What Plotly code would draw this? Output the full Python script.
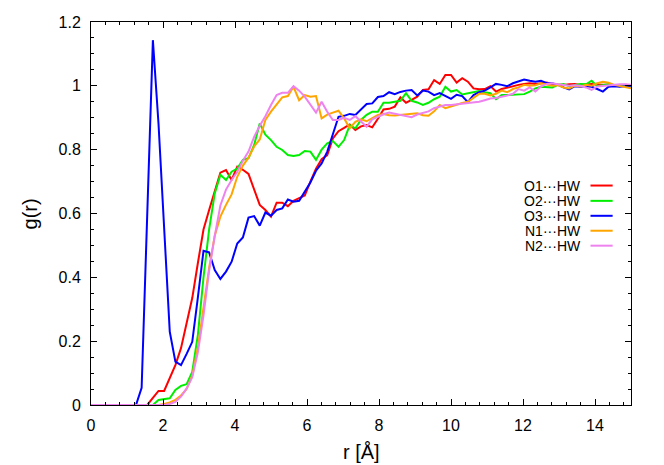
import plotly.graph_objects as go

# r grid (Å), bin spacing 15/96
r = [round(i * 0.15625, 5) for i in range(97)]

series_names = ["O1···HW", "O2···HW", "O3···HW", "N1···HW", "N2···HW"]
series_colors = ["#ff0000", "#00ee00", "#0000ff", "#ffa500", "#ee82ee"]

g_O1 = [0]*11 + [
    0.022, 0.044, 0.044, 0.084, 0.125, 0.178, 0.256, 0.335, 0.445,          # 12-20
    0.550, 0.611, 0.668, 0.728, 0.736, 0.705, 0.747, 0.737, 0.724, 0.674,   # 21-30
    0.627, 0.611, 0.590, 0.634, 0.634, 0.623, 0.640, 0.648, 0.656, 0.700,   # 31-40
    0.740, 0.770, 0.783, 0.835, 0.858, 0.868, 0.879, 0.862, 0.873, 0.877,   # 41-50
    0.870, 0.897, 0.926, 0.928, 0.935, 0.964, 0.947, 0.956, 0.966, 0.987,   # 51-60
    0.989, 1.018, 1.006, 1.034, 1.034, 1.010, 1.024, 1.013, 0.992, 0.989,   # 61-70
    0.990, 0.999, 0.982, 0.990, 0.995, 0.998, 1.003, 1.006, 1.008, 1.006,   # 71-80
    1.008, 1.010, 1.005, 1.004, 1.003, 1.005, 1.006, 1.003, 1.004, 1.006,   # 81-90
    1.004, 1.003, 1.002, 1.000, 1.000, 1.000]                               # 91-96

g_O2 = [0]*12 + [
    0.016, 0.018, 0.021, 0.047, 0.060, 0.065, 0.104, 0.220, 0.400,          # 12-20
    0.550, 0.663, 0.721, 0.705, 0.731, 0.741, 0.768, 0.773, 0.815, 0.882,   # 21-30
    0.847, 0.830, 0.809, 0.799, 0.783, 0.780, 0.783, 0.796, 0.794, 0.768,   # 31-40
    0.800, 0.820, 0.827, 0.809, 0.830, 0.877, 0.867, 0.893, 0.909, 0.919,   # 41-50
    0.919, 0.947, 0.947, 0.949, 0.953, 0.977, 0.953, 0.948, 0.940, 0.947,   # 51-60
    0.958, 0.966, 0.997, 0.982, 0.987, 0.973, 0.977, 0.982, 0.984, 0.980,   # 61-70
    0.977, 0.958, 0.971, 0.971, 0.972, 0.974, 0.974, 0.982, 0.992, 0.997,   # 71-80
    0.997, 0.995, 1.003, 1.006, 0.999, 1.003, 1.006, 1.005, 1.016, 0.999,   # 81-90
    1.002, 1.006, 1.002, 1.000, 0.998, 0.997]                               # 91-96

g_O3 = [0]*9 + [
    0.054, 0.590, 1.143, 0.882, 0.560, 0.230, 0.136, 0.125, 0.160, 0.198,   # 9-18
    0.337, 0.483, 0.478, 0.423, 0.395, 0.418, 0.449, 0.506, 0.525, 0.587,   # 19-28
    0.592, 0.562, 0.603, 0.593, 0.611, 0.616, 0.644, 0.637, 0.640, 0.668,   # 29-38
    0.697, 0.734, 0.757, 0.794, 0.846, 0.903, 0.906, 0.912, 0.909, 0.927,   # 39-48
    0.943, 0.945, 0.965, 0.968, 0.980, 0.974, 0.981, 0.985, 0.987, 0.970,   # 49-58
    0.985, 0.982, 0.971, 0.977, 0.969, 0.959, 0.972, 0.968, 0.949, 0.971,   # 59-68
    0.980, 0.985, 0.995, 1.006, 1.003, 0.999, 1.008, 1.015, 1.020, 1.016,   # 69-78
    1.013, 1.016, 1.008, 1.008, 1.003, 0.995, 0.989, 0.999, 0.997, 0.999,   # 79-88
    0.997, 0.990, 0.982, 0.997, 0.999, 0.997, 0.999, 1.000]                 # 89-96

g_N1 = [0]*13 + [
    0.003, 0.008, 0.016, 0.030, 0.050, 0.092, 0.180, 0.300,                 # 13-20
    0.430, 0.530, 0.590, 0.627, 0.660, 0.715, 0.750, 0.775, 0.810, 0.832,   # 21-30
    0.893, 0.919, 0.940, 0.964, 0.968, 0.997, 0.955, 0.971, 0.966, 0.968,   # 31-40
    0.898, 0.910, 0.916, 0.922, 0.898, 0.867, 0.887, 0.895, 0.889, 0.900,   # 41-50
    0.909, 0.912, 0.908, 0.907, 0.909, 0.911, 0.912, 0.914, 0.908, 0.906,   # 51-60
    0.920, 0.940, 0.930, 0.936, 0.940, 0.946, 0.950, 0.962, 0.975, 0.975,   # 61-70
    0.970, 0.975, 0.985, 0.980, 0.990, 0.995, 1.003, 1.000, 1.002, 1.008,   # 71-80
    1.005, 1.000, 1.002, 0.995, 0.992, 1.000, 0.998, 1.003, 1.000, 1.008,   # 81-90
    1.013, 1.010, 1.003, 1.000, 0.995, 0.992]                               # 91-96

g_N2 = [0]*14 + [
    0.003, 0.010, 0.026, 0.052, 0.087, 0.165, 0.280,                        # 14-20
    0.420, 0.530, 0.625, 0.675, 0.705, 0.730, 0.765, 0.794, 0.840, 0.875,   # 21-30
    0.905, 0.940, 0.971, 0.978, 0.978, 0.999, 0.985, 0.966, 0.940, 0.916,   # 31-40
    0.950, 0.919, 0.893, 0.893, 0.900, 0.893, 0.905, 0.890, 0.872, 0.895,   # 41-50
    0.903, 0.911, 0.916, 0.912, 0.910, 0.905, 0.902, 0.910, 0.916, 0.920,   # 51-60
    0.930, 0.936, 0.940, 0.940, 0.942, 0.945, 0.947, 0.950, 0.950, 0.955,   # 61-70
    0.960, 0.962, 0.965, 0.970, 0.975, 0.990, 0.985, 0.995, 0.982, 0.998,   # 71-80
    1.006, 1.008, 1.005, 1.003, 1.000, 1.002, 1.000, 0.995, 0.987, 0.998,   # 81-90
    1.000, 1.000, 1.003, 1.005, 1.005, 1.003]                               # 91-96

all_series = [g_O1, g_O2, g_O3, g_N1, g_N2]

x_ticks = [0, 2, 4, 6, 8, 10, 12, 14]
y_ticks = [0, 0.2, 0.4, 0.6, 0.8, 1, 1.2]
x_title = "r [Å]"
y_title = "g(r)"

FONT = "Liberation Sans, Arial, sans-serif"

fig = go.Figure()
for name, col, ys in zip(series_names, series_colors, all_series):
    fig.add_trace(go.Scatter(x=r, y=ys, mode="lines", name=name,
                             line=dict(color=col, width=2), showlegend=False))

# gnuplot-style key: right-aligned text, sample line to the right
key_y = [0.573, 0.533, 0.494, 0.455, 0.416]
for name, col, ky in zip(series_names, series_colors, key_y):
    fig.add_annotation(xref="paper", yref="paper", x=0.912, y=ky, text=name,
                       showarrow=False, xanchor="right", yanchor="middle",
                       font=dict(family=FONT, size=14, color="black"))
    fig.add_shape(type="line", xref="paper", yref="paper",
                  x0=0.925, x1=0.966, y0=ky, y1=ky,
                  line=dict(color=col, width=2))

# axis titles placed as annotations (fixed margins)
fig.add_annotation(xref="paper", yref="paper", x=0.5, y=-0.123, text=x_title,
                   showarrow=False, xanchor="center", yanchor="middle",
                   font=dict(family=FONT, size=20, color="black"))
fig.add_annotation(xref="paper", yref="paper", x=-0.113, y=0.5, text=y_title,
                   showarrow=False, xanchor="center", yanchor="middle", textangle=-90,
                   font=dict(family=FONT, size=20, color="black"))

axis_common = dict(showgrid=False, zeroline=False, showline=True, automargin=False,
                   linecolor="black", linewidth=1, mirror="allticks",
                   ticks="inside", ticklen=6, tickcolor="black",
                   tickfont=dict(family=FONT, size=16, color="black"))

fig.update_xaxes(range=[0, 15], tickvals=x_ticks, ticklabelstandoff=6,
                 minor=dict(dtick=0.4, tick0=0, ticks="inside", ticklen=3, tickcolor="black"),
                 **axis_common)
fig.update_yaxes(range=[0, 1.2], tickvals=y_ticks, ticklabelstandoff=6,
                 minor=dict(dtick=0.05, tick0=0, ticks="inside", ticklen=3, tickcolor="black"),
                 **axis_common)

# page body has an 8px margin: size the figure so the plot box lands where it should
fig.update_layout(width=656, height=457,
                  margin=dict(l=83, r=33, t=14, b=60, autoexpand=False),
                  plot_bgcolor="white", paper_bgcolor="white",
                  font=dict(family=FONT))

fig.write_html("out.html")
